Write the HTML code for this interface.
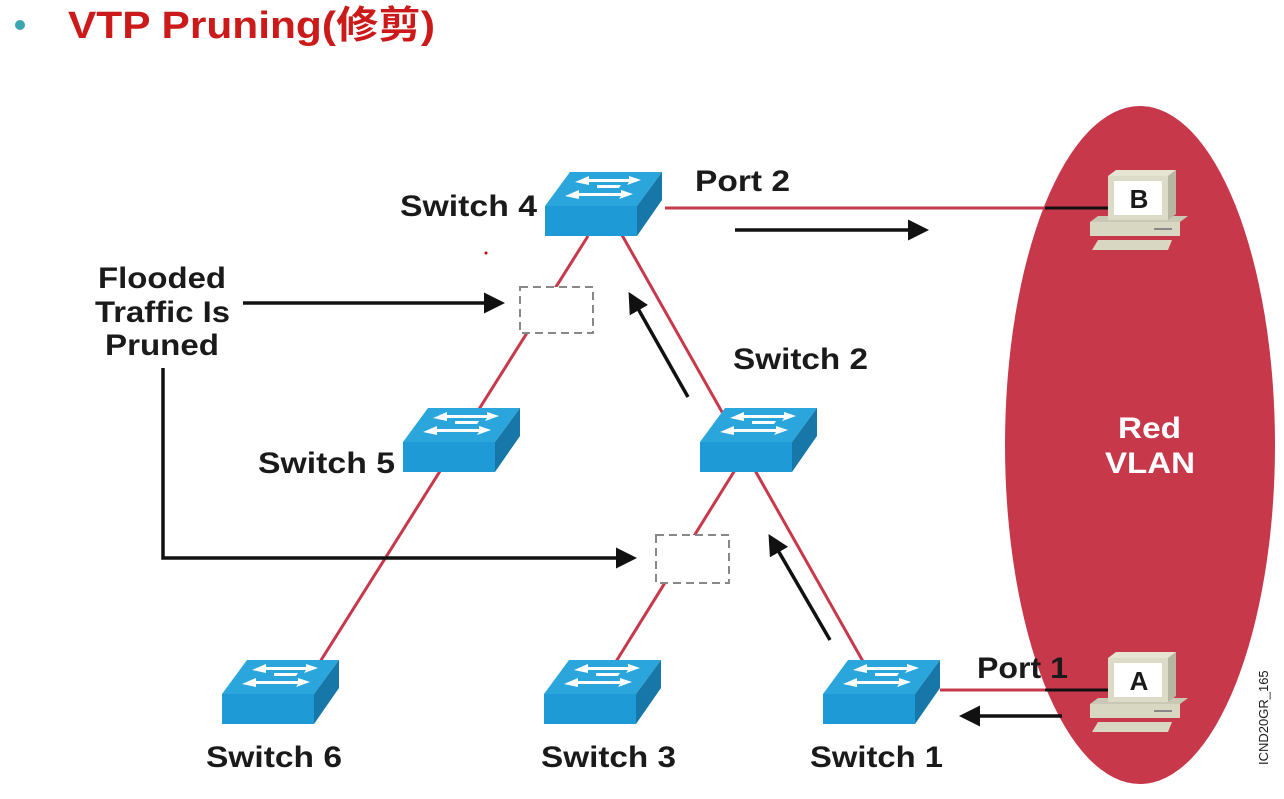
<!DOCTYPE html>
<html><head><meta charset="utf-8"><style>
html,body{margin:0;padding:0;background:#fff;}
svg{display:block;}
text{font-family:"Liberation Sans",Arial,sans-serif;font-weight:bold;fill:#1a1a1a;}
</style></head><body>
<svg width="1284" height="799" viewBox="0 0 1284 799" xmlns="http://www.w3.org/2000/svg">
<defs>
<g id="sw">
  <polygon points="0,0 92,0 117,-34 25,-34" fill="#2ba6dc"/>
  <polygon points="92,0 117,-34 117,-6 92,30" fill="#1677a8"/>
  <rect x="0" y="0" width="92" height="30" fill="#1e9bd6"/>
  <g fill="#fff">
    <polygon points="30,-24 44,-30 44,-27 68,-27 66,-24 44,-24 44,-21"/>
    <polygon points="52,-21 76,-21 74,-18 52,-18"/>
    <polygon points="96,-26 84,-30 84,-27 58,-27 56,-24 84,-24 82,-21"/>
    <polygon points="20,-10 34,-16 34,-13 60,-13 58,-10 34,-10 34,-7"/>
    <polygon points="88,-12 76,-16 76,-13 50,-13 48,-10 76,-10 74,-7"/>
  </g>
</g>
<g id="pc">
  <polygon points="-8,36 82,36 90,30 0,30" fill="#c9c8b4"/>
  <rect x="-8" y="36" width="90" height="14" fill="#d8d7c2"/>
  <polygon points="-6,64 70,64 74,54 0,54" fill="#d8d7c2"/>
  <rect x="10" y="-10" width="60" height="44" fill="#dcdbc8"/>
  <polygon points="70,-10 78,-16 78,28 70,34" fill="#b7b6a2"/>
  <polygon points="10,-10 70,-10 78,-16 18,-16" fill="#e6e5d3"/>
  <rect x="16" y="-5" width="48" height="34" fill="#fff"/>
  <rect x="56" y="42" width="18" height="2" fill="#888"/>
</g>
<marker id="ah" markerWidth="6" markerHeight="6" refX="4" refY="3" orient="auto" markerUnits="strokeWidth">
  <path d="M0,0 L6,3 L0,6 z" fill="#111"/>
</marker>
</defs>

<circle cx="20" cy="25" r="5" fill="#3aa6b0"/>
<text x="68" y="38" font-size="38" textLength="367" lengthAdjust="spacingAndGlyphs" style="fill:#cc1a1a;font-family:'Liberation Sans','Noto Sans CJK SC',sans-serif;">VTP Pruning(修剪)</text>

<ellipse cx="1140" cy="445" rx="135" ry="339" fill="#c8384b"/>

<g stroke="#c8384b" stroke-width="3" fill="none">
  <line x1="588" y1="236" x2="318" y2="665"/>
  <line x1="618" y1="228" x2="865" y2="665"/>
  <line x1="735" y1="470" x2="612" y2="668"/>
  <line x1="665" y1="208" x2="1100" y2="208"/>
  <line x1="940" y1="690" x2="1100" y2="690"/>
</g>
<line x1="1045" y1="208" x2="1110" y2="208" stroke="#111" stroke-width="3"/>
<line x1="1045" y1="690" x2="1110" y2="690" stroke="#111" stroke-width="3"/>

<rect x="520" y="287" width="73" height="46" fill="#fff" stroke="#888" stroke-width="2" stroke-dasharray="8,5"/>
<rect x="656" y="535" width="73" height="48" fill="#fff" stroke="#888" stroke-width="2" stroke-dasharray="8,5"/>

<use href="#sw" x="545" y="206"/>
<use href="#sw" x="700" y="442"/>
<use href="#sw" x="403" y="442"/>
<use href="#sw" x="222" y="694"/>
<use href="#sw" x="544" y="694"/>
<use href="#sw" x="823" y="694"/>

<use href="#pc" x="1098" y="186"/>
<text x="1139" y="208" font-size="26" text-anchor="middle">B</text>
<use href="#pc" x="1098" y="668"/>
<text x="1139" y="690" font-size="26" text-anchor="middle">A</text>

<g stroke="#111" stroke-width="3.5" fill="none">
  <line x1="735" y1="230" x2="922" y2="230" marker-end="url(#ah)"/>
  <line x1="1062" y1="716" x2="966" y2="716" marker-end="url(#ah)"/>
  <line x1="688" y1="397" x2="632" y2="298" marker-end="url(#ah)"/>
  <line x1="830" y1="640" x2="772" y2="540" marker-end="url(#ah)"/>
  <line x1="243" y1="303" x2="498" y2="303" marker-end="url(#ah)"/>
  <polyline points="163,368 163,558 630,558" marker-end="url(#ah)"/>
</g>

<g font-size="30">
<text x="400" y="216" textLength="137" lengthAdjust="spacingAndGlyphs">Switch 4</text>
<text x="695" y="191" textLength="95" lengthAdjust="spacingAndGlyphs">Port 2</text>
<text x="733" y="369" textLength="135" lengthAdjust="spacingAndGlyphs">Switch 2</text>
<text x="258" y="473" textLength="137" lengthAdjust="spacingAndGlyphs">Switch 5</text>
<text x="98" y="288" textLength="128" lengthAdjust="spacingAndGlyphs">Flooded</text>
<text x="95" y="322" textLength="135" lengthAdjust="spacingAndGlyphs">Traffic Is</text>
<text x="105" y="355" textLength="114" lengthAdjust="spacingAndGlyphs">Pruned</text>
<text x="206" y="767" textLength="136" lengthAdjust="spacingAndGlyphs">Switch 6</text>
<text x="541" y="767" textLength="135" lengthAdjust="spacingAndGlyphs">Switch 3</text>
<text x="810" y="767" textLength="133" lengthAdjust="spacingAndGlyphs">Switch 1</text>
<text x="977" y="678" textLength="91" lengthAdjust="spacingAndGlyphs">Port 1</text>
<text x="1118" y="438" textLength="63" lengthAdjust="spacingAndGlyphs" style="fill:#fff">Red</text>
<text x="1105" y="473" textLength="90" lengthAdjust="spacingAndGlyphs" style="fill:#fff">VLAN</text>
</g>
<text x="0" y="0" font-size="13" transform="translate(1268,765) rotate(-90)" style="font-weight:normal">ICND20GR_165</text>
<circle cx="486" cy="253" r="1.5" fill="#c00"/>
</svg>
</body></html>
